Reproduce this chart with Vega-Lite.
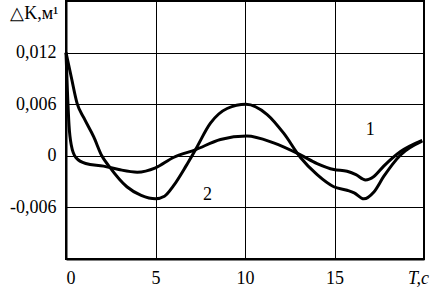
{
  "$schema": "https://vega.github.io/schema/vega-lite/v6.json",
  "autosize": {"type": "none"},
  "padding": {"left": 66, "top": 1, "right": 6, "bottom": 31},
  "width": 358,
  "height": 258,
  "background": "white",
  "config": {
    "view": {"stroke": "black", "strokeWidth": 2},
    "font": "Liberation Serif",
    "axis": {
      "grid": true, "gridColor": "black", "gridWidth": 1, "gridOpacity": 1,
      "domainColor": "black", "domainWidth": 2, "ticks": false,
      "labelFont": "Liberation Serif", "labelFontSize": 18, "labelColor": "black",
      "titleFont": "Liberation Serif", "titleFontSize": 18, "titleFontWeight": "normal", "titleColor": "black"
    }
  },
  "datasets": {
    "curves": [
      {"T": 0, "dK": 0.012, "curve": "2"},
      {"T": 0.3, "dK": 0.0091, "curve": "2"},
      {"T": 0.62, "dK": 0.0061, "curve": "2"},
      {"T": 1.0, "dK": 0.0044, "curve": "2"},
      {"T": 1.55, "dK": 0.0022, "curve": "2"},
      {"T": 2.0, "dK": 0.0, "curve": "2"},
      {"T": 2.4, "dK": -0.0012, "curve": "2"},
      {"T": 3.4, "dK": -0.0036, "curve": "2"},
      {"T": 4.2, "dK": -0.0046, "curve": "2"},
      {"T": 5.0, "dK": -0.005, "curve": "2"},
      {"T": 5.5, "dK": -0.0047, "curve": "2"},
      {"T": 6.0, "dK": -0.0035, "curve": "2"},
      {"T": 6.7, "dK": -0.0012, "curve": "2"},
      {"T": 7.23, "dK": 0.0007, "curve": "2"},
      {"T": 8.07, "dK": 0.0038, "curve": "2"},
      {"T": 9.0, "dK": 0.0055, "curve": "2"},
      {"T": 10.05, "dK": 0.006, "curve": "2"},
      {"T": 11.24, "dK": 0.0048, "curve": "2"},
      {"T": 12.17, "dK": 0.0026, "curve": "2"},
      {"T": 13.1, "dK": -0.0002, "curve": "2"},
      {"T": 14.03, "dK": -0.0022, "curve": "2"},
      {"T": 14.96, "dK": -0.0036, "curve": "2"},
      {"T": 15.7, "dK": -0.004, "curve": "2"},
      {"T": 16.1, "dK": -0.0043, "curve": "2"},
      {"T": 16.64, "dK": -0.005, "curve": "2"},
      {"T": 17.2, "dK": -0.0042, "curve": "2"},
      {"T": 17.75, "dK": -0.0024, "curve": "2"},
      {"T": 18.69, "dK": 0.0001, "curve": "2"},
      {"T": 19.9, "dK": 0.0017, "curve": "2"},
      {"T": 0, "dK": 0.012, "curve": "1"},
      {"T": 0.08, "dK": 0.0075, "curve": "1"},
      {"T": 0.17, "dK": 0.0035, "curve": "1"},
      {"T": 0.3, "dK": 0.0012, "curve": "1"},
      {"T": 0.55, "dK": -0.0002, "curve": "1"},
      {"T": 1.1, "dK": -0.0009, "curve": "1"},
      {"T": 2.1, "dK": -0.0012, "curve": "1"},
      {"T": 2.95, "dK": -0.0016, "curve": "1"},
      {"T": 3.98, "dK": -0.0019, "curve": "1"},
      {"T": 5.0, "dK": -0.0014, "curve": "1"},
      {"T": 6.0, "dK": -0.0002, "curve": "1"},
      {"T": 7.23, "dK": 0.0007, "curve": "1"},
      {"T": 8.63, "dK": 0.0019, "curve": "1"},
      {"T": 10.1, "dK": 0.0023, "curve": "1"},
      {"T": 11.6, "dK": 0.0015, "curve": "1"},
      {"T": 13.1, "dK": 0.0001, "curve": "1"},
      {"T": 14.03, "dK": -0.0009, "curve": "1"},
      {"T": 14.96, "dK": -0.0016, "curve": "1"},
      {"T": 15.7, "dK": -0.0018, "curve": "1"},
      {"T": 16.2, "dK": -0.0022, "curve": "1"},
      {"T": 16.73, "dK": -0.0028, "curve": "1"},
      {"T": 17.2, "dK": -0.0024, "curve": "1"},
      {"T": 17.75, "dK": -0.0012, "curve": "1"},
      {"T": 18.69, "dK": 0.0005, "curve": "1"},
      {"T": 19.9, "dK": 0.0018, "curve": "1"}
    ],
    "labels": [
      {"T": 17.0, "dK": 0.003, "label": "1"},
      {"T": 7.9, "dK": -0.0045, "label": "2"}
    ]
  },
  "layer": [
    {
      "data": {"name": "curves"},
      "mark": {"type": "line", "interpolate": "monotone", "color": "black", "strokeWidth": 3},
      "encoding": {
        "x": {
          "field": "T", "type": "quantitative",
          "scale": {"domain": [0, 20], "nice": false, "zero": false},
          "axis": {
            "values": [0, 5, 10, 15], "labelPadding": 10, "labelDx": 4,
            "title": "T,c", "titleX": 352, "titleY": 19, "titleAlign": "center", "titleBaseline": "middle", "titleFontStyle": "italic"
          }
        },
        "y": {
          "field": "dK", "type": "quantitative",
          "scale": {"domain": [-0.012, 0.018], "nice": false, "zero": false},
          "axis": {
            "values": [-0.006, 0, 0.006, 0.012], "labelPadding": 10,
            "labelExpr": "datum.value == 0 ? '0' : (datum.value < 0 ? '-' : '') + replace(format(abs(datum.value), '.3f'), '.', ',')",
            "title": "△K,м¹", "titleAngle": 0, "titleX": -8, "titleY": 12, "titleAlign": "right", "titleBaseline": "middle"
          }
        },
        "detail": {"field": "curve", "type": "nominal"}
      }
    },
    {
      "data": {"name": "labels"},
      "mark": {"type": "text", "font": "Liberation Serif", "fontSize": 18, "color": "black"},
      "encoding": {
        "x": {"field": "T", "type": "quantitative"},
        "y": {"field": "dK", "type": "quantitative"},
        "text": {"field": "label"}
      }
    }
  ]
}
